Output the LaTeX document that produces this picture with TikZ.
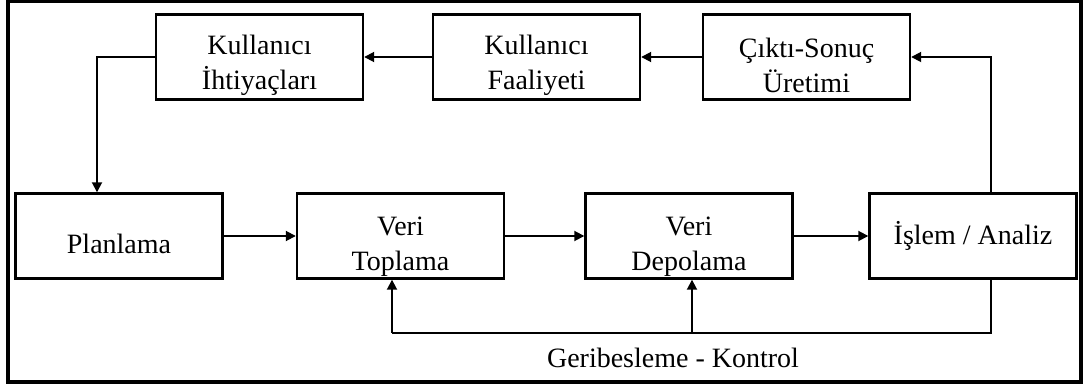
\documentclass[tikz,border=0pt]{standalone}
\usepackage{fontspec}
\setmainfont{Liberation Serif}
\usetikzlibrary{arrows.meta}

\begin{document}
\begin{tikzpicture}[x=0.5pt,y=-0.5pt,
  box/.style={draw, line width=1.2pt, minimum width=103.5pt, minimum height=42.5pt,
    inner ysep=0pt, align=center, font=\fontsize{14}{17.5}\selectfont},
  arr/.style={line width=0.9pt, -{Triangle[length=5pt,width=5pt]}}]
\useasboundingbox (0,0) rectangle (1084,385);
\draw[line width=1.6pt] (8,1) rectangle (1081,382);
% top row
\node[box] (ihtiyac) at (259.5,57) {\rule{0pt}{18pt}Kullanıcı\\İhtiyaçları};
\node[box] (faaliyet) at (536.5,57) {\rule{0pt}{18pt}Kullanıcı\\Faaliyeti};
\node[box] (cikti) at (806.5,57) {\rule{0pt}{18pt}Çıktı-Sonuç\\Üretimi};
% bottom row
\node[box] (planlama) at (119,236) {\rule{0pt}{18pt}Planlama};
\node[box] (toplama) at (400.5,236) {\rule{0pt}{20pt}Veri\\Toplama};
\node[box] (depolama) at (689,236) {\rule{0pt}{20pt}Veri\\Depolama};
\node[box] (islem) at (973,236) {İşlem / Analiz};
\draw[arr] (cikti) -- (faaliyet);
\draw[arr] (faaliyet) -- (ihtiyac);
\draw[arr] (ihtiyac.west) -| (planlama.north -| 97,0);
\draw[arr] (planlama) -- (toplama);
\draw[arr] (toplama) -- (depolama);
\draw[arr] (depolama) -- (islem);
\draw[arr] (islem.north -| 991,0) |- (cikti.east);
% feedback
\coordinate (fbl) at (392,333);
\coordinate (fbm) at (692,333);
\draw[line width=0.9pt] (islem.south -| 991,0) |- (fbl);
\draw[arr] (fbl) -- (toplama.south -| fbl);
\draw[arr] (fbm) -- (depolama.south -| fbm);
\node[font=\fontsize{14}{17.5}\selectfont] (geri) at (673,358) {Geribesleme - Kontrol};
\end{tikzpicture}
\end{document}
